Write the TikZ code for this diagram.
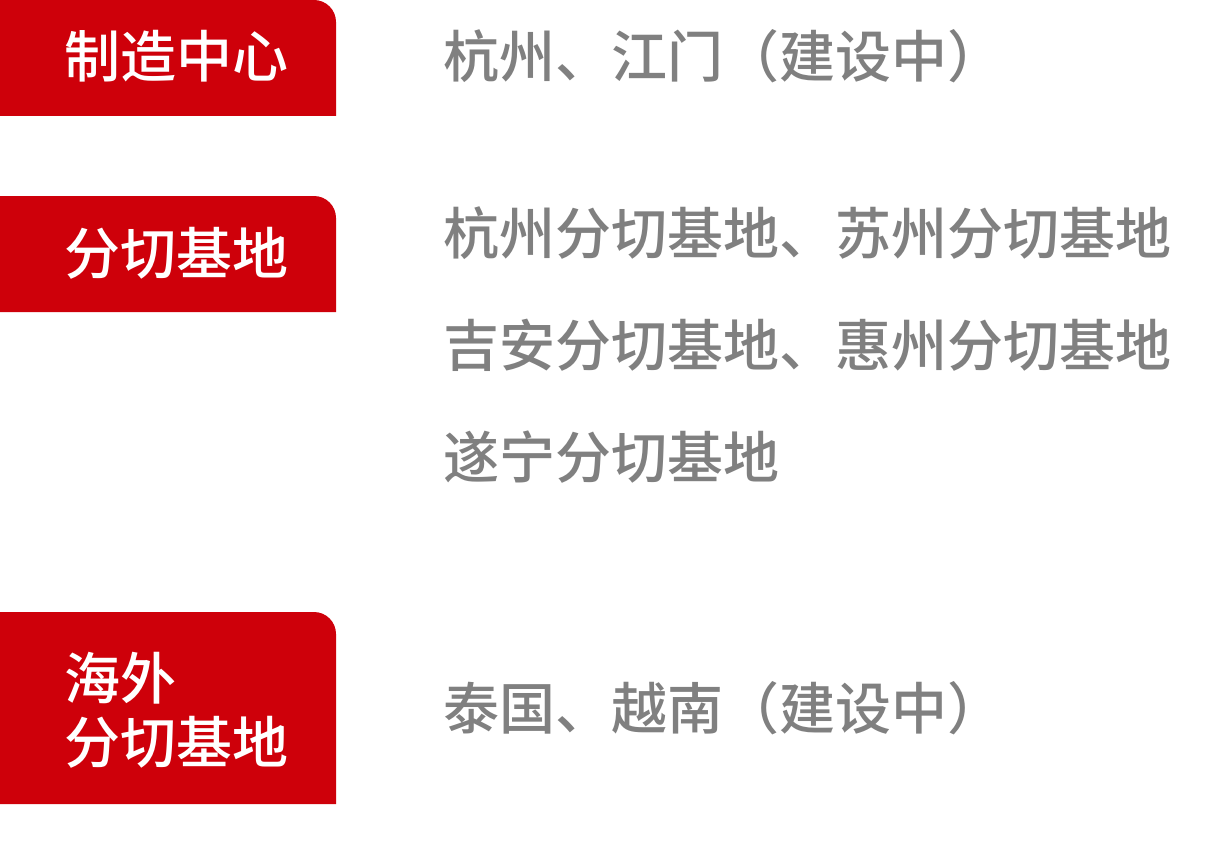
\documentclass[tikz,border=0pt]{standalone}
\usepackage{fontspec}
\usepackage{tikz}
\newfontfamily\cjk{Noto Sans CJK SC Medium}
\definecolor{tagred}{RGB}{206,0,10}
\definecolor{sitegray}{RGB}{128,128,128}

\begin{document}
\begin{tikzpicture}[x=1pt, y=1pt,
        tag/.style={tagred},
        tagtext/.style={anchor=base west, inner sep=0pt, text=white, font=\cjk\fontsize{56pt}{64pt}\selectfont},
        site/.style={anchor=base west, inner sep=0pt, text=sitegray, font=\cjk\fontsize{56pt}{64pt}\selectfont}]
            \useasboundingbox (0, 0) rectangle (1216, -848);
            % tags
            \fill[tag] (0, 0) -- (314, 0) arc[start angle=90, end angle=0, radius=22] -- (336, -116) -- (0, -116) -- cycle;
            \fill[tag] (0, -196) -- (314, -196) arc[start angle=90, end angle=0, radius=22] -- (336, -312) -- (0, -312) -- cycle;
            \fill[tag] (0, -612) -- (314, -612) arc[start angle=90, end angle=0, radius=22] -- (336, -804) -- (0, -804) -- cycle;
            \node[tagtext] (make) at (64, -78) {制造中心};
            \node[tagtext] (cut) at (64, -274) {分切基地};
            \node[tagtext] (abroad) at (64, -699) {海外};
            \node[tagtext] (abroadcut) at (64, -763) {分切基地};
            % sites
            \node[site] (makesites) at (443, -78) {杭州、江门（建设中）};
            \node[site] (cutsites1) at (443, -254) {杭州分切基地、苏州分切基地};
            \node[site] (cutsites2) at (443, -366) {吉安分切基地、惠州分切基地};
            \node[site] (cutsites3) at (443, -478) {遂宁分切基地};
            \node[site] (abroadsites) at (443, -729) {泰国、越南（建设中）};
        \end{tikzpicture}
\end{document}
